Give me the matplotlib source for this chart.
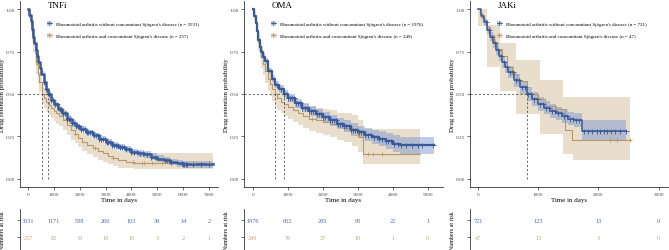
import numpy as np
import matplotlib
matplotlib.use("Agg")
import matplotlib.pyplot as plt
from matplotlib.patches import Patch
from matplotlib.lines import Line2D

plt.rcParams['font.family'] = ['Liberation Serif', 'DejaVu Serif']

BLUE = '#38599a'
TAN = '#b8976a'
BLUE_FILL = '#6f8fcc'
TAN_FILL = '#d8c3a2'
BLUE_TXT = '#4a6aa8'
TAN_TXT = '#c2a77c'
GREY = '#4d4d4d'

# ---------------- TNFi ----------------
tnf_t_no = [0, 50, 100, 150, 200, 250, 300, 350, 400, 450, 500, 600, 700, 780, 900, 1000, 1150, 1300,
            1500, 1700, 1850, 2000, 2250, 2500, 2750, 3000, 3250, 3500, 3750, 4000, 4250, 4500, 4750,
            5000, 5250, 5500, 5750, 6000, 7150]
tnf_s_no = [1.0, 0.965, 0.93, 0.885, 0.84, 0.80, 0.76, 0.725, 0.69, 0.655, 0.62, 0.57, 0.53, 0.50, 0.465,
            0.44, 0.41, 0.385, 0.355, 0.33, 0.31, 0.295, 0.275, 0.255, 0.235, 0.215, 0.20, 0.187, 0.172,
            0.157, 0.15, 0.144, 0.13, 0.118, 0.108, 0.098, 0.09, 0.085, 0.085]
tnf_lo_no = [1.0, 0.958, 0.921, 0.875, 0.829, 0.788, 0.747, 0.711, 0.676, 0.64, 0.605, 0.555, 0.515, 0.485,
             0.45, 0.425, 0.395, 0.37, 0.34, 0.315, 0.295, 0.28, 0.26, 0.24, 0.22, 0.198, 0.183, 0.17,
             0.155, 0.138, 0.13, 0.124, 0.11, 0.098, 0.088, 0.078, 0.07, 0.064, 0.064]
tnf_hi_no = [1.0, 0.972, 0.939, 0.895, 0.851, 0.812, 0.773, 0.739, 0.704, 0.67, 0.635, 0.585, 0.545, 0.515,
             0.48, 0.455, 0.425, 0.40, 0.37, 0.345, 0.325, 0.31, 0.29, 0.27, 0.25, 0.232, 0.217, 0.204,
             0.19, 0.176, 0.17, 0.164, 0.15, 0.138, 0.128, 0.118, 0.11, 0.105, 0.105]
tnf_c_no = [600, 700, 800, 900, 980, 1060, 1140, 1220, 1290, 1360, 1430, 1500, 1570, 1640, 1710, 1780,
            1850, 1920, 1990, 2060, 2130, 2200, 2270, 2340, 2410, 2480, 2550, 2620, 2690, 2760, 2830,
            2900, 2970, 3040, 3110, 3180, 3250, 3320, 3400, 3480, 3560, 3640, 3720, 3800, 3900, 4000,
            4100, 4200, 4320, 4450, 4600, 4750, 4900, 5300, 5380, 5450, 5550, 5950, 6000, 6050, 6100,
            6150, 6400, 6700, 7000]

tnf_t_sj = [0, 50, 100, 150, 200, 260, 320, 380, 440, 540, 620, 700, 800, 900, 1000, 1100, 1200, 1350,
            1500, 1650, 1800, 1950, 2100, 2300, 2500, 2700, 2900, 3100, 3300, 3500, 3800, 4100, 7150]
tnf_s_sj = [1.0, 0.96, 0.91, 0.855, 0.80, 0.74, 0.68, 0.62, 0.57, 0.50, 0.475, 0.455, 0.435, 0.42, 0.40,
            0.385, 0.37, 0.345, 0.315, 0.29, 0.265, 0.24, 0.215, 0.20, 0.18, 0.165, 0.15, 0.135, 0.12,
            0.108, 0.098, 0.09, 0.09]
tnf_lo_sj = [1.0, 0.935, 0.875, 0.81, 0.75, 0.685, 0.62, 0.56, 0.51, 0.44, 0.415, 0.395, 0.375, 0.36, 0.34,
             0.325, 0.31, 0.285, 0.255, 0.23, 0.21, 0.185, 0.16, 0.145, 0.125, 0.11, 0.097, 0.085, 0.073,
             0.065, 0.06, 0.055, 0.055]
tnf_hi_sj = [1.0, 0.985, 0.945, 0.90, 0.85, 0.795, 0.74, 0.68, 0.63, 0.56, 0.535, 0.515, 0.495, 0.48, 0.46,
             0.445, 0.43, 0.405, 0.375, 0.35, 0.325, 0.30, 0.275, 0.26, 0.24, 0.225, 0.21, 0.195, 0.18,
             0.165, 0.155, 0.15, 0.15]
tnf_c_sj = [1800, 2600, 3300, 4050, 4400, 4500, 4800, 5200, 6400, 7000]

tnf_risk_t = [0, 1000, 2000, 3000, 4000, 5000, 6000, 7000]
tnf_risk_no = [3531, 1171, 538, 260, 103, 39, 14, 2]
tnf_risk_sj = [257, 82, 33, 16, 10, 3, 2, 1]
tnf_median = [540, 780]

# ---------------- OMA ----------------
oma_t_no = [0, 40, 80, 120, 160, 200, 240, 300, 350, 450, 550, 650, 750, 900, 1000, 1200, 1400, 1600,
            1800, 2000, 2200, 2400, 2600, 2800, 3000, 3200, 3400, 3600, 3800, 4000, 4200, 5190]
oma_s_no = [1.0, 0.96, 0.92, 0.87, 0.82, 0.78, 0.75, 0.72, 0.695, 0.635, 0.59, 0.555, 0.53, 0.50, 0.475,
            0.445, 0.42, 0.40, 0.38, 0.365, 0.345, 0.325, 0.31, 0.29, 0.275, 0.26, 0.245, 0.235, 0.22,
            0.207, 0.197, 0.197]
oma_lo_no = [1.0, 0.952, 0.91, 0.858, 0.806, 0.765, 0.734, 0.703, 0.677, 0.616, 0.57, 0.534, 0.508, 0.477,
             0.45, 0.42, 0.394, 0.372, 0.351, 0.335, 0.313, 0.292, 0.275, 0.254, 0.238, 0.22, 0.203, 0.19,
             0.172, 0.156, 0.148, 0.148]
oma_hi_no = [1.0, 0.968, 0.93, 0.882, 0.834, 0.795, 0.766, 0.737, 0.713, 0.654, 0.61, 0.576, 0.552, 0.523,
             0.50, 0.47, 0.446, 0.428, 0.409, 0.395, 0.377, 0.358, 0.345, 0.326, 0.312, 0.30, 0.287, 0.28,
             0.268, 0.258, 0.246, 0.246]
oma_c_no = [700, 800, 900, 1000, 1060, 1120, 1180, 1240, 1300, 1360, 1420, 1480, 1540, 1600, 1660, 1720,
            1780, 1840, 1900, 1960, 2020, 2080, 2140, 2200, 2260, 2320, 2380, 2440, 2500, 2560, 2620,
            2680, 2740, 2800, 2860, 2920, 2980, 3040, 3100, 3160, 3220, 3300, 3380, 3460, 3540, 3620,
            3700, 3800, 3880, 3960, 4050, 4150, 4250, 4370, 4550, 4730, 4830, 5150]

oma_t_sj = [0, 40, 80, 120, 160, 200, 250, 300, 360, 430, 500, 560, 627, 700, 800, 900, 1000, 1150, 1300,
            1450, 1600, 1800, 2000, 2200, 2400, 2600, 2850, 3000, 3150, 4780]
oma_s_sj = [1.0, 0.96, 0.92, 0.865, 0.81, 0.77, 0.72, 0.68, 0.635, 0.59, 0.56, 0.53, 0.50, 0.475, 0.455,
            0.44, 0.425, 0.405, 0.385, 0.37, 0.355, 0.345, 0.335, 0.325, 0.31, 0.30, 0.285, 0.245, 0.148,
            0.148]
oma_lo_sj = [1.0, 0.93, 0.88, 0.815, 0.755, 0.71, 0.655, 0.612, 0.565, 0.52, 0.49, 0.46, 0.43, 0.405,
             0.385, 0.37, 0.355, 0.335, 0.315, 0.298, 0.282, 0.27, 0.258, 0.246, 0.23, 0.215, 0.195,
             0.155, 0.088, 0.088]
oma_hi_sj = [1.0, 0.99, 0.96, 0.915, 0.865, 0.83, 0.785, 0.748, 0.705, 0.66, 0.63, 0.60, 0.57, 0.545,
             0.525, 0.51, 0.495, 0.475, 0.455, 0.44, 0.428, 0.42, 0.412, 0.404, 0.39, 0.385, 0.375,
             0.345, 0.295, 0.295]
oma_c_sj = [1700, 2600, 3300, 3450, 3700]

oma_risk_t = [0, 1000, 2000, 3000, 4000, 5000]
oma_risk_no = [1976, 602, 285, 95, 22, 1]
oma_risk_sj = [249, 76, 37, 10, 1, 0]
oma_median = [627, 900]

# ---------------- JAKi ----------------
jak_t_no = [0, 50, 100, 150, 200, 250, 300, 350, 400, 450, 500, 600, 700, 815, 900, 1000, 1100, 1200,
            1300, 1400, 1500, 1600, 1720, 2450]
jak_s_no = [1.0, 0.96, 0.925, 0.88, 0.84, 0.80, 0.76, 0.725, 0.69, 0.66, 0.63, 0.58, 0.54, 0.50, 0.47,
            0.44, 0.42, 0.40, 0.385, 0.37, 0.355, 0.345, 0.28, 0.28]
jak_lo_no = [1.0, 0.945, 0.905, 0.857, 0.814, 0.772, 0.73, 0.693, 0.656, 0.625, 0.594, 0.542, 0.501, 0.46,
             0.43, 0.40, 0.38, 0.36, 0.345, 0.33, 0.314, 0.303, 0.225, 0.225]
jak_hi_no = [1.0, 0.975, 0.945, 0.903, 0.866, 0.828, 0.79, 0.757, 0.724, 0.695, 0.666, 0.618, 0.579,
             0.54, 0.51, 0.48, 0.46, 0.44, 0.425, 0.41, 0.396, 0.387, 0.345, 0.345]
jak_c_no = [130, 180, 230, 280, 330, 380, 430, 480, 530, 580, 630, 680, 730, 780, 830, 880, 930, 980,
            1030, 1080, 1130, 1180, 1230, 1280, 1330, 1380, 1430, 1480, 1530, 1580, 1630, 1680, 1760,
            1830, 1900, 1980, 2030, 2100, 2150, 2200, 2280, 2350, 2450]

jak_t_sj = [0, 30, 70, 110, 150, 200, 260, 320, 400, 480, 560, 650, 815, 1000, 1120, 1300, 1453, 1563, 2520]
jak_s_sj = [1.0, 0.979, 0.957, 0.936, 0.894, 0.851, 0.809, 0.766, 0.724, 0.66, 0.617, 0.575, 0.50, 0.47,
            0.43, 0.41, 0.285, 0.226, 0.226]
jak_ci_t_sj = [0, 144, 365, 641, 1028, 1410, 1575, 2520]
jak_lo_sj = [0.90, 0.66, 0.52, 0.38, 0.265, 0.148, 0.107, 0.107]
jak_hi_sj = [1.0, 0.91, 0.80, 0.70, 0.58, 0.48, 0.48, 0.48]
jak_c_sj = [1000, 2190, 2300, 2520]

jak_risk_t = [0, 1000, 2000, 3000]
jak_risk_no = [721, 123, 13, 0]
jak_risk_sj = [47, 13, 3, 0]
jak_median = [815]

panels = [
    dict(title='TNFi', n=(3531, 257), xlim=(-310, 7350), xticks=[0, 1000, 2000, 3000, 4000, 5000, 6000, 7000],
         left=20, width=198, blue_lw=1.8,
         no=(tnf_t_no, tnf_s_no, tnf_t_no, tnf_lo_no, tnf_hi_no, tnf_c_no),
         sj=(tnf_t_sj, tnf_s_sj, tnf_t_sj, tnf_lo_sj, tnf_hi_sj, tnf_c_sj),
         risk=(tnf_risk_t, tnf_risk_no, tnf_risk_sj), median=tnf_median),
    dict(title='OMA', n=(1976, 249), xlim=(-250, 5440), xticks=[0, 1000, 2000, 3000, 4000, 5000],
         left=244, width=199, blue_lw=1.6,
         no=(oma_t_no, oma_s_no, oma_t_no, oma_lo_no, oma_hi_no, oma_c_no),
         sj=(oma_t_sj, oma_s_sj, oma_t_sj, oma_lo_sj, oma_hi_sj, oma_c_sj),
         risk=(oma_risk_t, oma_risk_no, oma_risk_sj), median=oma_median),
    dict(title='JAKi', n=(721, 47), xlim=(-130, 3170), xticks=[0, 1000, 2000, 3000],
         left=470, width=199, blue_lw=1.1,
         no=(jak_t_no, jak_s_no, jak_t_no, jak_lo_no, jak_hi_no, jak_c_no),
         sj=(jak_t_sj, jak_s_sj, jak_ci_t_sj, jak_lo_sj, jak_hi_sj, jak_c_sj),
         risk=(jak_risk_t, jak_risk_no, jak_risk_sj), median=jak_median),
]

W, H = 669, 251
fig = plt.figure(figsize=(W / 100, H / 100), dpi=100)


def km(ax, data, color, fill, alpha, lw, ms):
    t, s, ct, lo, hi, cens = data
    ax.fill_between(ct, lo, hi, step='post', color=fill, alpha=alpha, lw=0, zorder=1)
    ax.step(t, s, where='post', color=color, lw=lw, zorder=3)
    t = np.asarray(t)
    idx = np.searchsorted(t, cens, side='right') - 1
    ax.plot(cens, np.asarray(s)[idx], ls='none', marker='+', ms=ms, mew=0.6, color=color, zorder=4)


for p in panels:
    ax = fig.add_axes([p['left'] / W, 1 - 188 / H, p['width'] / W, 186 / H])
    km(ax, p['sj'], TAN, TAN_FILL, 0.55, 0.8, 3.2)
    km(ax, p['no'], BLUE, BLUE_FILL, 0.45, p['blue_lw'], 3.6)

    med = p['median']
    ax.plot([p['xlim'][0], max(med)], [0.5, 0.5], color=GREY, lw=0.6, ls=(0, (2.5, 2.5)), zorder=5)
    for m in med:
        ax.plot([m, m], [0, 0.5], color=GREY, lw=0.6, ls=(0, (2.5, 2.5)), zorder=5)

    ax.set_xlim(*p['xlim'])
    ax.set_ylim(-0.05, 1.05)
    ax.set_xticks(p['xticks'])
    ax.set_yticks([0, 0.25, 0.5, 0.75, 1.0])
    ax.set_yticklabels(['0.00', '0.25', '0.50', '0.75', '1.00'])
    ax.tick_params(labelsize=3.8, length=2, width=0.5, pad=1.5, colors='#333333', labelcolor=GREY)
    for sp in ['top', 'right']:
        ax.spines[sp].set_visible(False)
    for sp in ['left', 'bottom']:
        ax.spines[sp].set_linewidth(0.6)
        ax.spines[sp].set_color('#333333')
    ax.set_xlabel('Time in days', fontsize=5, labelpad=1)
    ax.set_ylabel('Drug retention probability', fontsize=5)
    ax.yaxis.set_label_coords(-15 / p['width'], 0.5)

    ax.text(0.14, 0.978, p['title'], transform=ax.transAxes, fontsize=6.5, va='center', ha='left')

    h_no = (Patch(facecolor=BLUE_FILL, alpha=0.45, lw=0),
            Line2D([], [], color=BLUE, lw=0.6, marker='+', ms=3.5, mew=0.6))
    h_sj = (Patch(facecolor=TAN_FILL, alpha=0.55, lw=0),
            Line2D([], [], color=TAN, lw=0.6, marker='+', ms=3.5, mew=0.6))
    ax.legend([h_no, h_sj],
              ["Rheumatoid arthritis without concomitant Sjögren's disease (n = %d)" % p['n'][0],
               "Rheumatoid arthritis and concomitant Sjögren's disease (n = %d)" % p['n'][1]],
              loc='upper left', bbox_to_anchor=(0.135, 0.89), frameon=False, fontsize=3.6,
              handlelength=1.0, handleheight=1.0, handletextpad=0.8, labelspacing=1.4,
              borderpad=0, borderaxespad=0)

    # risk table
    rt, rno, rsj = p['risk']
    rax = fig.add_axes([p['left'] / W, 0, p['width'] / W, 41 / H])
    rax.set_xlim(*p['xlim'])
    rax.set_ylim(0.24, 2.65)
    for x, v in zip(rt, rno):
        rax.text(x, 2, str(v), ha='center', va='center', fontsize=4.5, color=BLUE_TXT)
    for x, v in zip(rt, rsj):
        rax.text(x, 1, str(v), ha='center', va='center', fontsize=4.5, color=TAN_TXT)
    rax.set_yticks([1, 2])
    rax.set_yticklabels(['', ''])
    rax.set_xticks([])
    for sp in ['top', 'right', 'bottom']:
        rax.spines[sp].set_visible(False)
    rax.spines['left'].set_linewidth(0.6)
    rax.spines['left'].set_color('#333333')
    rax.tick_params(axis='y', length=2, width=0.5, colors='#333333')
    rax.set_ylabel('Numbers at risk', fontsize=4.3)
    rax.yaxis.set_label_coords(-15 / p['width'], 0.5)

fig.savefig('out.png', dpi=100)
